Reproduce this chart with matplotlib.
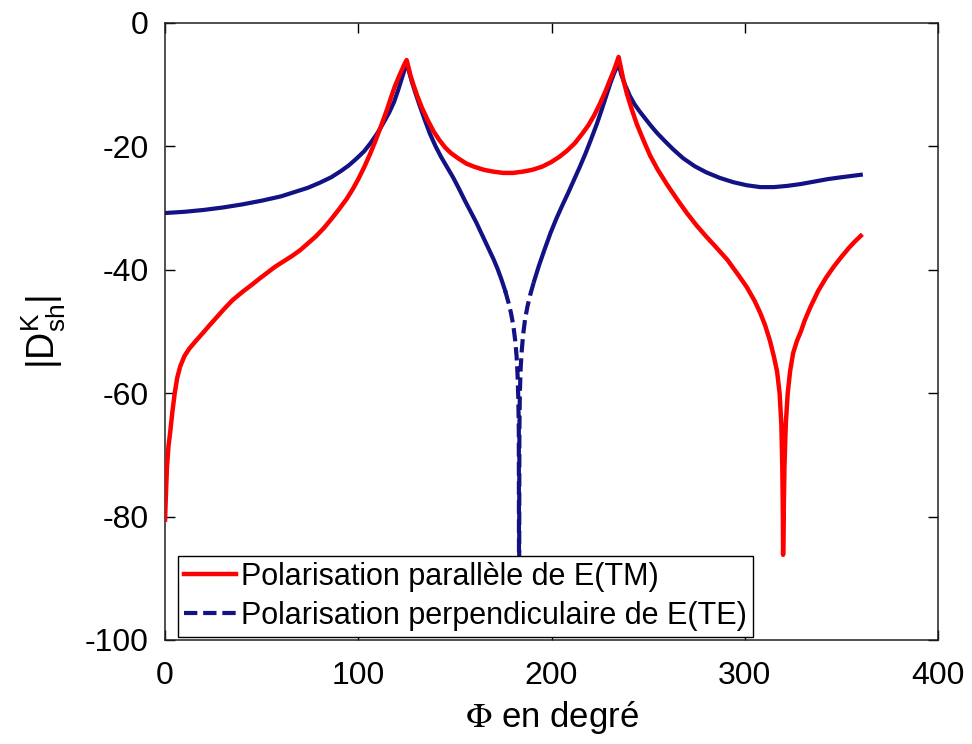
import numpy as np
import matplotlib
matplotlib.use("Agg")
import matplotlib.pyplot as plt

plt.rcParams['font.family'] = ['Liberation Sans', 'DejaVu Sans']
plt.rcParams['axes.unicode_minus'] = False
plt.rcParams['mathtext.fontset'] = 'custom'
plt.rcParams['mathtext.rm'] = 'Liberation Sans'
plt.rcParams['mathtext.it'] = 'Liberation Sans'

# ==============================
# Courbes |D_sh^K| en fonction de Phi
# ==============================
# polarisation parallele (TM)
tm_phi = [0, 0.5, 1, 1.8, 2.6, 3.8, 5, 6.3, 7.8, 10, 12.5, 16, 19.7, 23, 27,
          31, 35, 40, 45, 49, 52.8, 57, 62, 66, 70, 74, 78, 82, 86, 90, 94,
          97, 100, 103, 106, 109, 112, 115, 117, 119, 121, 123, 124, 125,
          126, 127, 128.5, 130.5, 133, 136, 139, 142, 145, 148, 152, 156,
          160, 165, 170, 175, 180, 185, 190, 195, 199.5, 204, 208, 212, 216,
          219, 222, 225, 228, 230, 232, 233.5, 234.7,
          235.7, 237, 239, 241.5, 244, 247, 251, 255, 260, 265, 270, 275,
          280, 285, 291, 297, 301, 305, 308, 310.5, 313, 315, 316.7, 318,
          318.9, 319.4, 319.7, 319.8,
          320.1, 320.5, 321.2, 322.2, 323.4, 325, 327, 329, 331, 334, 338,
          342, 346, 350, 354, 357, 360]
tm_val = [-80.5, -76, -72, -68.5, -66.5, -63, -60, -57.5, -55.7, -54, -52.8,
          -51.5, -50.2, -49, -47.6,
          -46.2, -44.9, -43.6, -42.4, -41.4, -40.5, -39.5, -38.5, -37.7,
          -36.8, -35.7, -34.6, -33.3, -31.8, -30.2, -28.5,
          -27, -25.3, -23.4, -21.3, -19, -16.5, -13.9, -12, -10.2, -8.7,
          -7.3, -6.6, -6.0,
          -7.2, -8.5, -10, -11.8, -13.8, -15.8, -17.6, -19, -20.2, -21.1,
          -22, -22.8,
          -23.3, -23.8, -24.1, -24.3, -24.3, -24.1, -23.8, -23.3, -22.6,
          -21.7, -20.7, -19.5, -17.9,
          -16.6, -15, -13.1, -11, -9.4, -7.9, -6.6, -5.5,
          -7, -9, -11.5, -14, -16.3, -18.6, -21.5, -23.8, -26.3, -28.6,
          -30.8, -32.8,
          -34.6, -36.3, -38.4, -41, -42.8, -45, -47, -49, -51.5, -54, -56.5,
          -60,
          -65, -72, -80, -86.2,
          -80, -72, -65, -60, -56.5, -53.5, -51.5, -50, -48.2, -46, -43.4,
          -41.3, -39.5, -37.9, -36.4, -35.4, -34.5]

# polarisation perpendiculaire (TE)
te_phi = [0, 10, 20, 30, 40, 50, 60, 67, 74, 80, 86, 91, 95, 99, 103, 106.5,
          110, 113, 116, 118.5, 120.5, 122, 123.5, 125,
          126, 127.5, 129.5, 132, 134.5, 137, 140, 143, 146, 149, 152, 155,
          158, 161, 164, 167, 170, 172, 174, 176, 177.7, 179, 180.2, 181.2,
          181.9, 182.4, 182.8, 183.05, 183.2,
          183.35, 183.6, 184, 184.6, 185.3, 186.3, 187.5, 189, 191, 193.5,
          196.5, 199.5, 202.5, 205.5, 208.5, 211.5, 214.5, 217.5, 220.5,
          223.5, 226, 228.5, 230.5, 232.3, 233.7, 234.7,
          236, 238, 240.5, 243, 245.5, 248, 251, 254.5, 258.5, 263, 268,
          274, 280, 287, 294, 301, 308, 315, 322, 329, 336, 343, 350, 355,
          360]
te_val = [-30.8, -30.6, -30.3, -29.9, -29.4, -28.8, -28.1, -27.4, -26.7,
          -25.9, -25, -24, -23.1, -22, -20.8, -19.4,
          -17.8, -16.2, -14.5, -12.8, -11, -9.5, -8, -6.3,
          -7.6, -9.3, -11.3, -13.6, -15.8, -17.9, -20, -21.8, -23.4, -25,
          -26.8, -28.7,
          -30.5, -32.3, -34.3, -36.3, -38.3, -39.8, -41.5, -43.4, -45.3, -47,
          -49, -51.5,
          -54, -57, -61, -66, -98,
          -66, -60, -56, -53, -50.5, -48, -46, -44, -41.8, -39.3,
          -36.6, -34, -31.7, -29.6, -27.6, -25.5, -23.4, -21.2, -18.8,
          -16.3, -14, -11.6, -9.7, -8.2, -7.2, -6.5,
          -8.3, -10, -11.8, -13.2, -14.3, -15.3, -16.5, -17.8, -19.1, -20.5,
          -21.9,
          -23.2, -24.2, -25.1, -25.8, -26.3, -26.6, -26.6, -26.4, -26.1,
          -25.7, -25.3, -25, -24.8, -24.6]

red = (1.0, 0.0, 0.0)
navy = (0.07, 0.07, 0.52)

fig = plt.figure(figsize=(9.72, 7.44), dpi=100)
ax = fig.add_axes([0.1698, 0.1398, 0.7953, 0.8293])

ax.plot(tm_phi, tm_val, color=red, lw=3.2, solid_joinstyle='round',
        label='Polarisation parallèle de E(TM)', zorder=3)

# la courbe TE est tracée pleine, sauf dans le creux (tirets)
te_phi = np.array(te_phi)
te_val = np.array(te_val)
deep = np.where(te_val <= -44)[0]
i0, i1 = deep[0], deep[-1]
kw = dict(color=navy, lw=3.0, zorder=2, solid_joinstyle='round')
ax.plot(te_phi[:i0], te_val[:i0], **kw)
ax.plot(te_phi[i0 - 1:i1 + 2], te_val[i0 - 1:i1 + 2],
        linestyle=(0, (3.2, 1.4)),
        label='Polarisation perpendiculaire de E(TE)', **kw)
ax.plot(te_phi[i1 + 1:], te_val[i1 + 1:], **kw)

ax.set_xlim(0, 400)
ax.set_ylim(-100, 0)
ax.set_xticks([0, 100, 200, 300, 400])
ax.set_yticks([-100, -80, -60, -40, -20, 0])
ax.tick_params(direction='in', top=True, right=True, length=7, width=1,
               labelsize=23)
ax.tick_params(axis='y', pad=12)
ax.tick_params(axis='x', pad=15)
for s in ax.spines.values():
    s.set_linewidth(1.1)
    s.set_color('#202020')

ax.set_xlabel(r'$\Phi$ en degré', fontsize=25, labelpad=6,
              math_fontfamily='stix')
ax.set_ylabel(r'|D$^{\mathrm{K}}_{\mathrm{sh}}$|', fontsize=27, labelpad=12)

leg = ax.legend(loc='lower left', bbox_to_anchor=(0.0168, 0.005),
                borderaxespad=0, fancybox=False, edgecolor='black',
                framealpha=1, fontsize=22, handlelength=1.7,
                handletextpad=0.15, borderpad=0.2, labelspacing=0.3)
leg.get_frame().set_linewidth(1.0)

plt.savefig("out.png", dpi=100)
